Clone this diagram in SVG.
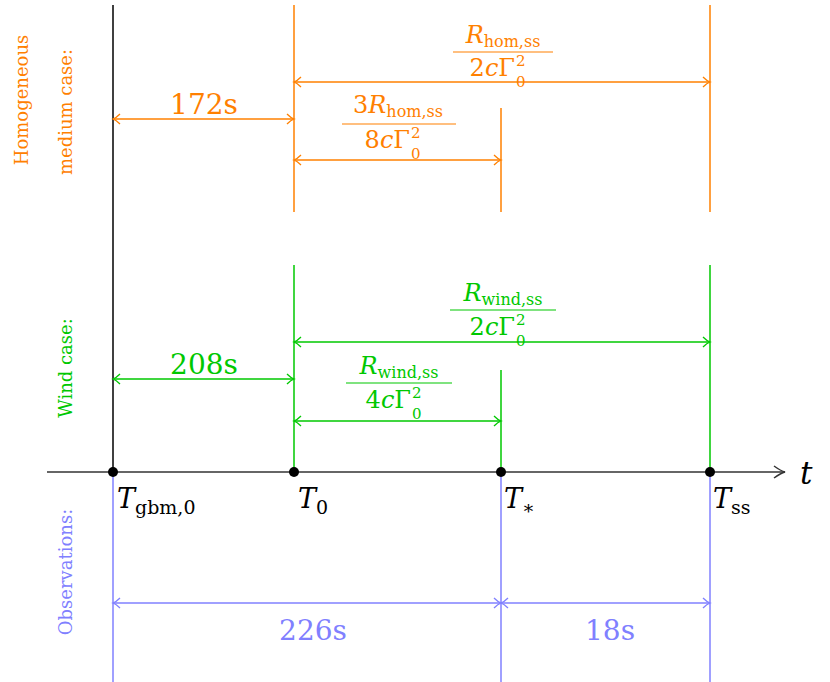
<svg xmlns="http://www.w3.org/2000/svg" width="830" height="682" viewBox="0 0 830 682" font-family="'DejaVu Serif', 'Liberation Serif', serif">
<style>
.o{stroke:#ff8000;fill:none;stroke-width:1.5}
.g{stroke:#00c800;fill:none;stroke-width:1.5}
.b{stroke:#8080ff;fill:none;stroke-width:1.5}
.k{stroke:#000;fill:none;stroke-width:1.5}
.to{fill:#ff8000}.tg{fill:#00c800}.tb{fill:#8080ff}
.i{font-style:italic}
.s{font-size:15px}
</style>
<defs>
<marker id="ao" viewBox="-8 -6 10 12" markerWidth="10" markerHeight="12" refX="0" refY="0" orient="auto-start-reverse" markerUnits="userSpaceOnUse"><path d="M-7,-5 Q-3,-1 0,0 Q-3,1 -7,5" fill="none" stroke="#ff8000" stroke-width="1.3"/></marker>
<marker id="ag" viewBox="-8 -6 10 12" markerWidth="10" markerHeight="12" refX="0" refY="0" orient="auto-start-reverse" markerUnits="userSpaceOnUse"><path d="M-7,-5 Q-3,-1 0,0 Q-3,1 -7,5" fill="none" stroke="#00c800" stroke-width="1.3"/></marker>
<marker id="ab" viewBox="-8 -6 10 12" markerWidth="10" markerHeight="12" refX="0" refY="0" orient="auto-start-reverse" markerUnits="userSpaceOnUse"><path d="M-7,-5 Q-3,-1 0,0 Q-3,1 -7,5" fill="none" stroke="#8080ff" stroke-width="1.3"/></marker>
<marker id="ak" viewBox="-12 -7 14 14" markerWidth="14" markerHeight="14" refX="0" refY="0" orient="auto" markerUnits="userSpaceOnUse"><path d="M-11,-6 Q-4,-1 0,0 Q-4,1 -11,6" fill="none" stroke="#333" stroke-width="1.5"/></marker>
</defs>
<g id="connectors">
<line class="k" x1="113" y1="5" x2="113" y2="472"/>
<line class="o" x1="294" y1="5" x2="294" y2="212"/>
<line class="o" x1="710" y1="5" x2="710" y2="212"/>
<line class="o" x1="501" y1="108" x2="501" y2="212"/>
<line class="o" x1="113" y1="119" x2="294" y2="119" marker-start="url(#ao)" marker-end="url(#ao)"/>
<line class="o" x1="294" y1="82" x2="710" y2="82" marker-start="url(#ao)" marker-end="url(#ao)"/>
<line class="o" x1="294" y1="160" x2="501" y2="160" marker-start="url(#ao)" marker-end="url(#ao)"/>
<line class="g" x1="294" y1="265" x2="294" y2="472"/>
<line class="g" x1="710" y1="265" x2="710" y2="472"/>
<line class="g" x1="501" y1="370" x2="501" y2="472"/>
<line class="g" x1="113" y1="379" x2="294" y2="379" marker-start="url(#ag)" marker-end="url(#ag)"/>
<line class="g" x1="294" y1="342" x2="710" y2="342" marker-start="url(#ag)" marker-end="url(#ag)"/>
<line class="g" x1="294" y1="421" x2="501" y2="421" marker-start="url(#ag)" marker-end="url(#ag)"/>
<line class="b" x1="113" y1="472" x2="113" y2="682"/>
<line class="b" x1="501" y1="472" x2="501" y2="682"/>
<line class="b" x1="710" y1="472" x2="710" y2="682"/>
<line class="b" x1="113" y1="603" x2="501" y2="603" marker-start="url(#ab)" marker-end="url(#ab)"/>
<line class="b" x1="501" y1="603" x2="710" y2="603" marker-start="url(#ab)" marker-end="url(#ab)"/>
<line x1="47" y1="472" x2="785" y2="472" stroke="#333" stroke-width="1.5" marker-end="url(#ak)"/>
</g>
<g id="points" fill="#000">
<circle cx="113" cy="472" r="5"/><circle cx="294" cy="472" r="5"/><circle cx="501" cy="472" r="5"/><circle cx="710" cy="472" r="5"/>
</g>
<g id="axis-labels" font-size="27">
<text x="800" y="484" class="i" font-size="31">t</text>
<text x="117" y="508" class="i">T<tspan font-style="normal" font-size="19" dy="6">gbm,0</tspan></text>
<text x="298" y="508" class="i">T<tspan font-style="normal" font-size="19" dy="6">0</tspan></text>
<text x="504" y="508" class="i">T<tspan font-size="19" dy="6">∗</tspan></text>
<text x="713" y="508" class="i">T<tspan font-style="normal" font-size="19" dy="6">ss</tspan></text>
</g>
<g id="side-labels" font-size="18">
<text class="to" transform="translate(28,100) rotate(-90)" text-anchor="middle">Homogeneous</text>
<text class="to" transform="translate(72,112) rotate(-90)" text-anchor="middle">medium case:</text>
<text class="tg" transform="translate(72,368) rotate(-90)" text-anchor="middle">Wind case:</text>
<text class="tb" transform="translate(72,572) rotate(-90)" text-anchor="middle">Observations:</text>
</g>
<g id="homogeneous-labels" class="to">
<text x="204" y="114" font-size="28" text-anchor="middle">172s</text>
<text x="503" y="43" font-size="24" text-anchor="middle"><tspan class="i">R</tspan><tspan font-size="16" dy="4">hom,ss</tspan></text>
<line x1="453" y1="52" x2="553" y2="52" stroke="#ff8000" stroke-width="1.2"/>
<text x="515" y="76" font-size="24" text-anchor="end">2<tspan class="i">c</tspan>Γ</text>
<text x="516" y="66" class="s">2</text><text x="516" y="87" class="s">0</text>
<text x="398" y="113" font-size="24" text-anchor="middle">3<tspan class="i">R</tspan><tspan font-size="16" dy="4">hom,ss</tspan></text>
<line x1="342" y1="124" x2="456" y2="124" stroke="#ff8000" stroke-width="1.2"/>
<text x="410" y="148" font-size="24" text-anchor="end">8<tspan class="i">c</tspan>Γ</text>
<text x="411" y="138" class="s">2</text><text x="411" y="159" class="s">0</text>
</g>
<g id="wind-labels" class="tg">
<text x="204" y="374" font-size="28" text-anchor="middle">208s</text>
<text x="503" y="301" font-size="24" text-anchor="middle"><tspan class="i">R</tspan><tspan font-size="16" dy="4">wind,ss</tspan></text>
<line x1="450" y1="310" x2="556" y2="310" stroke="#00c800" stroke-width="1.2"/>
<text x="515" y="335" font-size="24" text-anchor="end">2<tspan class="i">c</tspan>Γ</text>
<text x="516" y="325" class="s">2</text><text x="516" y="346" class="s">0</text>
<text x="399" y="374" font-size="24" text-anchor="middle"><tspan class="i">R</tspan><tspan font-size="16" dy="4">wind,ss</tspan></text>
<line x1="346" y1="383" x2="452" y2="383" stroke="#00c800" stroke-width="1.2"/>
<text x="411" y="408" font-size="24" text-anchor="end">4<tspan class="i">c</tspan>Γ</text>
<text x="412" y="398" class="s">2</text><text x="412" y="419" class="s">0</text>
</g>
<g id="observation-labels" class="tb" font-size="28" text-anchor="middle">
<text x="313" y="640">226s</text>
<text x="610" y="640">18s</text>
</g>
</svg>
